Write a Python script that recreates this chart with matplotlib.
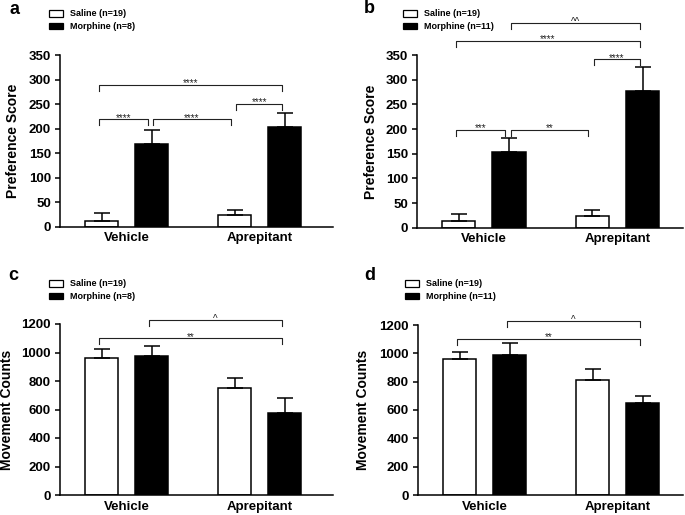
import numpy as np
import matplotlib
matplotlib.use('Agg')
from matplotlib import pyplot as plt
from matplotlib.patches import Patch

plt.rcParams['font.family'] = ['Liberation Sans', 'DejaVu Sans']
plt.rcParams['font.weight'] = 'bold'

groups = ['Vehicle', 'Aprepitant']
saline_label = 'Saline (n=19)'

# panel a - preference score, morphine n=8
a_saline = [12, 23]
a_saline_sem = [15, 11]
a_morph = [169, 204]
a_morph_sem = [28, 27]

# panel b - preference score, morphine n=11
b_saline = [13, 24]
b_saline_sem = [14, 11]
b_morph = [153, 278]
b_morph_sem = [28, 48]

# panel c - movement counts, morphine n=8
c_saline = [964, 753]
c_saline_sem = [61, 68]
c_morph = [978, 577]
c_morph_sem = [70, 101]

# panel d - movement counts, morphine n=11
d_saline = [961, 815]
d_saline_sem = [45, 73]
d_morph = [986, 648]
d_morph_sem = [89, 51]

# significance brackets: (left bar, right bar, height, label)
# bars: 0 saline/vehicle, 1 morphine/vehicle, 2 saline/aprepitant, 3 morphine/aprepitant
a_sig = [(0, 3, 289, '****'), (0, 1, 219, '****'), (1, 2, 219, '****'), (2, 3, 250, '****')]
b_sig = [(0, 1, 198, '***'), (1, 2, 198, '**'), (2, 3, 341, '****'),
         (0, 3, 379, '****'), (1, 3, 414, '^^')]
c_sig = [(1, 3, 1226, '^'), (0, 3, 1099, '**')]
d_sig = [(1, 3, 1226, '^'), (0, 3, 1102, '**')]


def draw_panel(ax, saline, saline_sem, morph, morph_sem, sig, ymax, ystep,
               ylabel, morph_label, xmax, label_x, leg_anchor):
    x = np.arange(len(groups))
    off = 0.188
    w = 0.248
    ax.bar(x - off, saline, w, color='white', edgecolor='black', linewidth=1.1, zorder=2)
    ax.bar(x + off, morph, w, color='black', edgecolor='black', linewidth=1.1, zorder=2)
    ax.errorbar(x - off, saline, yerr=[np.zeros(len(x)), saline_sem], fmt='none',
                ecolor='black', elinewidth=1.1, capsize=5.5, capthick=1.1, zorder=3)
    ax.errorbar(x + off, morph, yerr=[np.zeros(len(x)), morph_sem], fmt='none',
                ecolor='black', elinewidth=1.1, capsize=5.5, capthick=1.1, zorder=1)

    pos = [x[0] - off, x[0] + off, x[1] - off, x[1] + off]
    lefts = [s[0] for s in sig]
    rights = [s[1] for s in sig]
    drop = 0.035 * ymax
    for i, j, h, lab in sig:
        xl = pos[i] + 0.012 if i in rights else pos[i] - 0.02
        xr = pos[j] - 0.03 if j in lefts else pos[j] - 0.02
        ax.plot([xl, xl, xr, xr], [h - drop, h, h, h - drop], color='#222222',
                linewidth=0.8, clip_on=False, zorder=4)
        ax.annotate(lab, ((xl + xr) / 2, h), xytext=(0, -1), textcoords='offset points',
                    ha='center', va='baseline', fontsize=7, fontweight='normal',
                    color='#222222', annotation_clip=False)

    ax.set_xlim(-0.5, xmax)
    ax.set_ylim(0, ymax)
    ax.set_yticks(np.arange(0, ymax + 1, ystep))
    ax.set_xticks(x)
    ax.set_xticklabels(groups, fontsize=9.5, fontweight='bold')
    ax.tick_params(axis='x', length=0, pad=4)
    ax.tick_params(axis='y', length=3.5, width=1.1, pad=3, labelsize=9.5)
    for t in ax.get_yticklabels():
        t.set_fontweight('bold')
    for side in ['top', 'right']:
        ax.spines[side].set_visible(False)
    for side in ['left', 'bottom']:
        ax.spines[side].set_linewidth(1.1)
    ax.set_ylabel(ylabel, fontsize=10, fontweight='bold')
    ax.yaxis.set_label_coords(label_x, 0.5)

    handles = [Patch(facecolor='white', edgecolor='black', linewidth=0.9, label=saline_label),
               Patch(facecolor='black', edgecolor='black', linewidth=0.9, label=morph_label)]
    ax.legend(handles=handles, loc='upper left', bbox_to_anchor=leg_anchor,
              bbox_transform=fig.transFigure, frameon=False,
              handlelength=1.55, handleheight=0.78, handletextpad=0.78,
              labelspacing=0.4, borderpad=0, borderaxespad=0,
              prop={'weight': 'bold', 'size': 6.5})


fig = plt.figure(figsize=(6.85, 5.15), dpi=100)
W, H = 685.0, 515.0

ax_a = fig.add_axes([60 / W, 1 - 226.7 / H, 273 / W, 171.7 / H])
ax_b = fig.add_axes([417 / W, 1 - 227.7 / H, 266 / W, 172.7 / H])
ax_c = fig.add_axes([60 / W, 1 - 495 / H, 273 / W, 171 / H])
ax_d = fig.add_axes([418 / W, 1 - 495 / H, 265 / W, 170 / H])

draw_panel(ax_a, a_saline, a_saline_sem, a_morph, a_morph_sem, a_sig, 350, 50,
           'Preference Score', 'Morphine (n=8)', 1.55, -0.147,
           (49 / W, 1 - 9.5 / H))
draw_panel(ax_b, b_saline, b_saline_sem, b_morph, b_morph_sem, b_sig, 350, 50,
           'Preference Score', 'Morphine (n=11)', 1.49, -0.147,
           (403 / W, 1 - 9.5 / H))
draw_panel(ax_c, c_saline, c_saline_sem, c_morph, c_morph_sem, c_sig, 1200, 200,
           'Movement Counts', 'Morphine (n=8)', 1.55, -0.168,
           (49 / W, 1 - 279.5 / H))
draw_panel(ax_d, d_saline, d_saline_sem, d_morph, d_morph_sem, d_sig, 1200, 200,
           'Movement Counts', 'Morphine (n=11)', 1.49, -0.181,
           (405 / W, 1 - 279.5 / H))

for letter, px, py in [('a', 9, 1), ('b', 364, 0), ('c', 8, 267), ('d', 364, 267)]:
    fig.text(px / W, 1 - py / H, letter, fontsize=13, fontweight='bold', ha='left', va='top')

fig.savefig('out.png', dpi=100)
